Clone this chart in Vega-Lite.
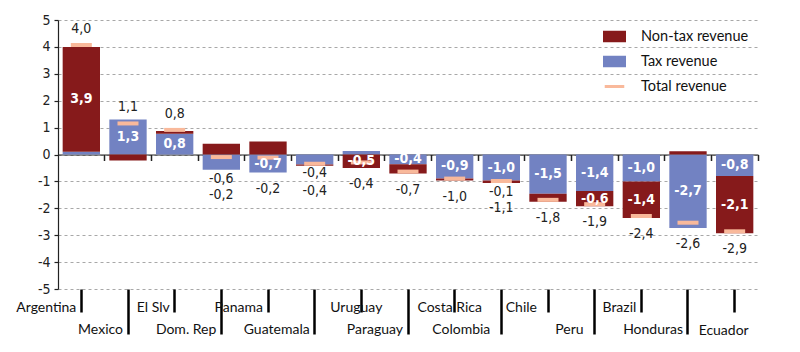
{
  "$schema": "https://vega.github.io/schema/vega-lite/v6.json",
  "width": 700,
  "height": 269,
  "autosize": "none",
  "padding": {"left": 58, "top": 20, "right": 42, "bottom": 63},
  "config": {
    "locale": {"number": {"decimal": ",", "thousands": ".", "grouping": [3], "currency": ["", ""], "minus": "-"}},
    "view": {"stroke": null},
    "font": "Lato"
  },
  "datasets": {
    "seg": [
      {"country": "Argentina", "type": "Tax revenue", "value": 0.1},
      {"country": "Argentina", "type": "Non-tax revenue", "value": 3.9},
      {"country": "Mexico", "type": "Tax revenue", "value": 1.3},
      {"country": "Mexico", "type": "Non-tax revenue", "value": -0.22},
      {"country": "El Slv", "type": "Tax revenue", "value": 0.77},
      {"country": "El Slv", "type": "Non-tax revenue", "value": 0.1},
      {"country": "Dom. Rep", "type": "Tax revenue", "value": -0.57},
      {"country": "Dom. Rep", "type": "Non-tax revenue", "value": 0.4},
      {"country": "Panama", "type": "Tax revenue", "value": -0.67},
      {"country": "Panama", "type": "Non-tax revenue", "value": 0.48},
      {"country": "Guatemala", "type": "Tax revenue", "value": -0.37},
      {"country": "Guatemala", "type": "Non-tax revenue", "value": -0.05},
      {"country": "Uruguay", "type": "Tax revenue", "value": 0.13},
      {"country": "Uruguay", "type": "Non-tax revenue", "value": -0.5},
      {"country": "Paraguay", "type": "Tax revenue", "value": -0.36},
      {"country": "Paraguay", "type": "Non-tax revenue", "value": -0.35},
      {"country": "Costa Rica", "type": "Tax revenue", "value": -0.89},
      {"country": "Costa Rica", "type": "Non-tax revenue", "value": -0.08},
      {"country": "Colombia", "type": "Tax revenue", "value": -0.97},
      {"country": "Colombia", "type": "Non-tax revenue", "value": -0.09},
      {"country": "Chile", "type": "Tax revenue", "value": -1.46},
      {"country": "Chile", "type": "Non-tax revenue", "value": -0.3},
      {"country": "Peru", "type": "Tax revenue", "value": -1.36},
      {"country": "Peru", "type": "Non-tax revenue", "value": -0.56},
      {"country": "Brazil", "type": "Tax revenue", "value": -1.0},
      {"country": "Brazil", "type": "Non-tax revenue", "value": -1.36},
      {"country": "Honduras", "type": "Tax revenue", "value": -2.73},
      {"country": "Honduras", "type": "Non-tax revenue", "value": 0.12},
      {"country": "Ecuador", "type": "Tax revenue", "value": -0.8},
      {"country": "Ecuador", "type": "Non-tax revenue", "value": -2.13}
    ],
    "tot": [
      {"country": "Argentina", "total": 4.0},
      {"country": "Mexico", "total": 1.08},
      {"country": "El Slv", "total": 0.84},
      {"country": "Dom. Rep", "total": -0.17},
      {"country": "Panama", "total": -0.19},
      {"country": "Guatemala", "total": -0.42},
      {"country": "Uruguay", "total": -0.37},
      {"country": "Paraguay", "total": -0.71},
      {"country": "Costa Rica", "total": -0.97},
      {"country": "Colombia", "total": -1.06},
      {"country": "Chile", "total": -1.76},
      {"country": "Peru", "total": -1.92},
      {"country": "Brazil", "total": -2.36},
      {"country": "Honduras", "total": -2.61},
      {"country": "Ecuador", "total": -2.93}
    ]
  },
  "resolve": {"axis": {"x": "independent"}},
  "layer": [
    {
      "data": {"name": "seg"},
      "transform": [
        {"stack": "value", "groupby": ["country"], "sort": [{"field": "type", "order": "descending"}], "as": ["v0", "v1"]}
      ],
      "mark": {"type": "bar"},
      "encoding": {
        "x": {
          "field": "country", "type": "nominal",
          "scale": {"domain": ["Argentina", "Mexico", "El Slv", "Dom. Rep", "Panama", "Guatemala", "Uruguay", "Paraguay", "Costa Rica", "Colombia", "Chile", "Peru", "Brazil", "Honduras", "Ecuador"], "paddingInner": 0.2, "paddingOuter": 0.1},
          "axis": {
            "orient": "bottom", "title": null, "domain": false, "grid": false,
            "ticks": true, "tickColor": "#000", "tickWidth": 2.5,
            "tickSize": {"condition": {"test": "indexof(['Mexico','Dom. Rep','Guatemala','Paraguay','Colombia','Peru','Honduras'], datum.value) >= 0", "value": 45}, "value": 23},
            "labelAlign": {"condition": {"test": "indexof(['Uruguay','Costa Rica','Ecuador'], datum.value) >= 0", "value": "center"}, "value": "right"},
            "labelBaseline": "middle",
            "labelPadding": {"condition": {"test": "datum.value === 'Ecuador'", "value": 18}, "value": -5},
            "labelOffset": {"condition": {"test": "indexof(['Chile','Colombia','Peru','Ecuador'], datum.value) >= 0", "value": -11}, "value": -5},
            "labelFont": "Lato", "labelFontSize": 14, "labelColor": "#111",
            "labelOverlap": false, "labelAngle": 0
          }
        },
        "y": {
          "field": "v0", "type": "quantitative",
          "scale": {"domain": [-5, 5], "nice": false},
          "axis": {
            "title": null, "values": [-5, -4, -3, -2, -1, 0, 1, 2, 3, 4, 5], "tickCount": 11,
            "format": "d", "grid": true, "gridColor": "#a8a8a8", "gridDash": [3, 3], "gridWidth": 1,
            "domain": true, "domainColor": "#222", "domainWidth": 1.2,
            "tickColor": "#222", "tickSize": 4, "tickWidth": 1.2,
            "labelOverlap": false, "labelFlush": false,
            "labelFont": "DejaVu Sans Condensed, Liberation Sans Narrow, sans-serif",
            "labelFontSize": 14, "labelColor": "#222", "labelPadding": 4
          }
        },
        "y2": {"field": "v1"},
        "color": {
          "field": "type", "type": "nominal",
          "scale": {"domain": ["Non-tax revenue", "Tax revenue", "Total revenue"], "range": ["#861A1B", "#7282C2", "#F9B99B"]},
          "legend": {
            "orient": "none", "legendX": 545, "legendY": 5, "title": null, "padding": 0,
            "symbolType": "M-1,-0.5H1V0.5H-1Z", "symbolSize": 529, "symbolStrokeWidth": 0, "symbolOpacity": 1,
            "labelFont": "Lato", "labelFontSize": 14.5, "labelColor": "#111", "labelOffset": 15, "rowPadding": 7,
            "encode": {"symbols": {"update": {"shape": {"signal": "datum.label === 'Total revenue' ? 'M-0.85,-0.13H0.85V0.13H-0.85Z' : 'M-1,-0.5H1V0.5H-1Z'"}}}}
          }
        },
        "order": {"field": "type", "sort": "descending"}
      }
    },
    {
      "data": {"name": "tot"},
      "mark": {"type": "tick", "color": "#F9B99B", "size": 21, "thickness": 4, "opacity": 1, "yOffset": -2},
      "encoding": {
        "x": {
          "field": "country", "type": "nominal",
          "axis": {
            "orient": "top", "offset": -134.5, "title": null, "labels": false, "grid": false,
            "domain": true, "domainColor": "#222", "domainWidth": 1.2,
            "ticks": true, "tickColor": "#222", "tickWidth": 1.5, "tickSize": -6, "bandPosition": 1.125
          }
        },
        "y": {"field": "total", "type": "quantitative", "axis": {"title": null}}
      }
    },
    {
      "data": {"name": "seg"},
      "transform": [
        {"stack": "value", "groupby": ["country"], "sort": [{"field": "type", "order": "descending"}], "as": ["v0", "v1"]},
        {"calculate": "(datum.v0 + datum.v1) / 2", "as": "mid"},
        {"filter": "indexof(['Argentina|Non-tax revenue','Mexico|Tax revenue','El Slv|Tax revenue','Panama|Tax revenue','Uruguay|Non-tax revenue','Paraguay|Tax revenue','Costa Rica|Tax revenue','Colombia|Tax revenue','Chile|Tax revenue','Peru|Tax revenue','Peru|Non-tax revenue','Brazil|Tax revenue','Brazil|Non-tax revenue','Honduras|Tax revenue','Ecuador|Tax revenue','Ecuador|Non-tax revenue'], datum.country + '|' + datum.type) >= 0"}
      ],
      "mark": {"type": "text", "color": "#ffffff", "fontWeight": "bold", "fontSize": 14, "baseline": "middle", "font": "DejaVu Sans Condensed, Liberation Sans Narrow, sans-serif"},
      "encoding": {
        "x": {"field": "country", "type": "nominal", "axis": null},
        "y": {"field": "mid", "type": "quantitative", "axis": {"title": null}},
        "text": {"field": "value", "type": "quantitative", "format": ".1f"}
      }
    },
    {
      "data": {"name": "seg"},
      "transform": [
        {"stack": "value", "groupby": ["country"], "sort": [{"field": "type", "order": "descending"}], "as": ["v0", "v1"]},
        {"filter": "indexof(['Dom. Rep|Tax revenue','Guatemala|Tax revenue','Colombia|Non-tax revenue'], datum.country + '|' + datum.type) >= 0"}
      ],
      "mark": {"type": "text", "color": "#222", "fontSize": 14, "baseline": "middle", "dy": 9, "font": "DejaVu Sans Condensed, Liberation Sans Narrow, sans-serif"},
      "encoding": {
        "x": {"field": "country", "type": "nominal", "axis": null},
        "y": {"field": "v1", "type": "quantitative", "axis": {"title": null}},
        "text": {"field": "value", "type": "quantitative", "format": ".1f"}
      }
    },
    {
      "data": {"name": "tot"},
      "transform": [{"filter": "datum.total > 0"}],
      "mark": {"type": "text", "color": "#222", "fontSize": 14, "baseline": "middle", "dy": -18, "font": "DejaVu Sans Condensed, Liberation Sans Narrow, sans-serif"},
      "encoding": {
        "x": {"field": "country", "type": "nominal", "axis": null},
        "y": {"field": "total", "type": "quantitative", "axis": {"title": null}},
        "text": {"field": "total", "type": "quantitative", "format": ".1f"}
      }
    },
    {
      "data": {"name": "seg"},
      "transform": [
        {"filter": "datum.value < 0"},
        {"aggregate": [{"op": "sum", "field": "value", "as": "lo"}], "groupby": ["country"]},
        {"lookup": "country", "from": {"data": {"name": "tot"}, "key": "country", "fields": ["total"]}},
        {"filter": "datum.total < 0 && indexof(['Dom. Rep','Guatemala','Colombia'], datum.country) < 0"}
      ],
      "mark": {"type": "text", "color": "#222", "fontSize": 14, "baseline": "middle", "dy": 16, "font": "DejaVu Sans Condensed, Liberation Sans Narrow, sans-serif"},
      "encoding": {
        "x": {"field": "country", "type": "nominal", "axis": null},
        "y": {"field": "lo", "type": "quantitative", "axis": {"title": null}},
        "text": {"field": "total", "type": "quantitative", "format": ".1f"}
      }
    },
    {
      "data": {"name": "seg"},
      "transform": [
        {"filter": "datum.value < 0"},
        {"aggregate": [{"op": "sum", "field": "value", "as": "lo"}], "groupby": ["country"]},
        {"lookup": "country", "from": {"data": {"name": "tot"}, "key": "country", "fields": ["total"]}},
        {"filter": "datum.total < 0 && indexof(['Dom. Rep','Guatemala','Colombia'], datum.country) >= 0"}
      ],
      "mark": {"type": "text", "color": "#222", "fontSize": 14, "baseline": "middle", "dy": 25, "font": "DejaVu Sans Condensed, Liberation Sans Narrow, sans-serif"},
      "encoding": {
        "x": {"field": "country", "type": "nominal", "axis": null},
        "y": {"field": "lo", "type": "quantitative", "axis": {"title": null}},
        "text": {"field": "total", "type": "quantitative", "format": ".1f"}
      }
    }
  ]
}
